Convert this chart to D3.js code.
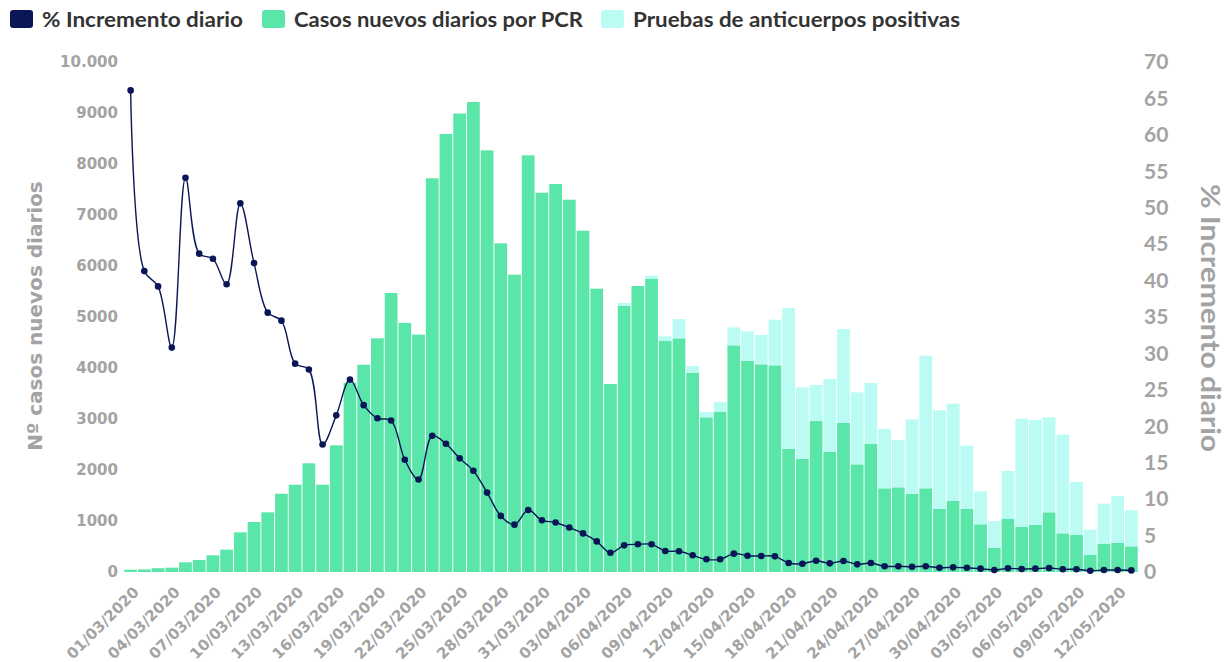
<!DOCTYPE html>
<html>
<head>
<meta charset="utf-8">
<script src="https://cdn.jsdelivr.net/npm/d3@7"></script>
<style>
  body { margin: 0; background: #fff; }
  svg { display: block; }
</style>
</head>
<body>
<div id="chart"></div>
<script>
// dates (one bar per day)
const dates = [
  "01/03/2020","02/03/2020","03/03/2020","04/03/2020","05/03/2020","06/03/2020","07/03/2020","08/03/2020","09/03/2020","10/03/2020",
  "11/03/2020","12/03/2020","13/03/2020","14/03/2020","15/03/2020","16/03/2020","17/03/2020","18/03/2020","19/03/2020","20/03/2020",
  "21/03/2020","22/03/2020","23/03/2020","24/03/2020","25/03/2020","26/03/2020","27/03/2020","28/03/2020","29/03/2020","30/03/2020",
  "31/03/2020","01/04/2020","02/04/2020","03/04/2020","04/04/2020","05/04/2020","06/04/2020","07/04/2020","08/04/2020","09/04/2020",
  "10/04/2020","11/04/2020","12/04/2020","13/04/2020","14/04/2020","15/04/2020","16/04/2020","17/04/2020","18/04/2020","19/04/2020",
  "20/04/2020","21/04/2020","22/04/2020","23/04/2020","24/04/2020","25/04/2020","26/04/2020","27/04/2020","28/04/2020","29/04/2020",
  "30/04/2020","01/05/2020","02/05/2020","03/05/2020","04/05/2020","05/05/2020","06/05/2020","07/05/2020","08/05/2020","09/05/2020",
  "10/05/2020","11/05/2020","12/05/2020","13/05/2020"
];

// Casos nuevos diarios por PCR
const pcr = [
  45, 50, 75, 85, 190, 235, 327, 438, 778, 980,
  1170, 1535, 1712, 2131, 1712, 2484, 3712, 4065, 4582, 5470,
  4885, 4655, 7720, 8590, 8990, 9216, 8268, 6444, 5830, 8170,
  7438, 7608, 7300, 6692, 5555, 3686, 5222, 5608, 5752, 4536,
  4582, 3908, 3033, 3137, 4444, 4137, 4072, 4052, 2412, 2220,
  2961, 2353, 2922, 2111, 2510, 1641, 1660, 1536, 1641, 1235,
  1392, 1235, 935, 471, 1039, 882, 922, 1170, 758, 725,
  340, 556, 575, 503
];

// Pruebas de anticuerpos positivas
const anticuerpos = [
  0, 0, 0, 0, 0, 0, 0, 0, 0, 0,
  0, 0, 0, 0, 0, 0, 0, 0, 0, 0,
  0, 0, 0, 0, 0, 0, 0, 0, 0, 0,
  0, 0, 0, 0, 0, 0, 53, 0, 58, 85,
  378, 131, 104, 196, 353, 582, 575, 896, 2764, 1401,
  706, 1431, 1843, 1412, 1196, 1163, 928, 1457, 2601, 1935,
  1909, 1242, 647, 529, 941, 2124, 2058, 1863, 1935, 1040,
  490, 784, 915, 706
];

// % Incremento diario
const incremento = [
  66.1, 41.3, 39.2, 30.8, 54.1, 43.7, 43.0, 39.5, 50.6, 42.4,
  35.6, 34.5, 28.6, 27.8, 17.5, 21.5, 26.4, 22.9, 21.1, 20.8,
  15.4, 12.7, 18.7, 17.6, 15.6, 13.9, 10.9, 7.7, 6.5, 8.5,
  7.1, 6.8, 6.1, 5.3, 4.2, 2.65, 3.66, 3.8, 3.8, 2.88,
  2.84, 2.29, 1.74, 1.74, 2.52, 2.24, 2.2, 2.15, 1.23, 1.14,
  1.55, 1.19, 1.51, 1.05, 1.23, 0.78, 0.78, 0.73, 0.78, 0.59,
  0.64, 0.59, 0.46, 0.27, 0.5, 0.41, 0.46, 0.55, 0.37, 0.37,
  0.18, 0.27, 0.27, 0.22
];

const leftTicks = [0, 1000, 2000, 3000, 4000, 5000, 6000, 7000, 8000, 9000, 10000];
const rightTicks = [0, 5, 10, 15, 20, 25, 30, 35, 40, 45, 50, 55, 60, 65, 70];

const W = 1231, H = 662;
const margin = { top: 62, right: 93, bottom: 90, left: 124 };
const width = W - margin.left - margin.right,
      height = H - margin.top - margin.bottom;

const cGreen = "#5be6a9", cCyan = "#bafcf4", cNavy = "#0a1656", cGrey = "#a3a3a3";

const svg = d3.select("#chart")
  .append("svg")
  .attr("width", W)
  .attr("height", H);

const g = svg.append("g")
  .attr("transform", `translate(${margin.left},${margin.top})`);

// scales
const x = d3.scaleBand()
  .domain(dates)
  .range([0, width])
  .paddingInner(0.07)
  .paddingOuter(0.02);

const y = d3.scaleLinear().domain([0, 10000]).range([height, 0]);
const y2 = d3.scaleLinear().domain([0, 70]).range([height, 0]);

// stacked bars
const rows = dates.map((d, i) => ({ date: d, pcr: pcr[i], anti: anticuerpos[i] }));
const stack = d3.stack().keys(["pcr", "anti"])(rows);
const colors = { pcr: cGreen, anti: cCyan };

g.selectAll(".serie")
  .data(stack)
  .join("g")
  .attr("fill", d => colors[d.key])
  .selectAll("rect")
  .data(d => d)
  .join("rect")
  .attr("x", d => x(d.data.date))
  .attr("width", x.bandwidth())
  .attr("y", d => y(d[1]))
  .attr("height", d => Math.max(0, y(d[0]) - y(d[1])));

// left axis
const axL = g.append("g")
  .call(d3.axisLeft(y).tickValues(leftTicks)
    .tickFormat(d => d === 10000 ? "10.000" : d3.format("d")(d))
    .tickSize(0).tickPadding(6));
axL.select(".domain").remove();
axL.selectAll("text")
  .attr("fill", cGrey)
  .style("font", "bold 15px 'DejaVu Sans'");

// right axis
const axR = g.append("g")
  .attr("transform", `translate(${width},0)`)
  .call(d3.axisRight(y2).tickValues(rightTicks).tickSize(0).tickPadding(6));
axR.select(".domain").remove();
axR.selectAll("text")
  .attr("fill", cGrey)
  .style("font", "bold 21px Lato");

// x axis, every 3rd label
const axB = g.append("g")
  .attr("transform", `translate(0,${height})`)
  .call(d3.axisBottom(x).tickValues(dates.filter((d, i) => i % 3 === 0)).tickSize(0));
axB.select(".domain").remove();
axB.selectAll("text")
  .attr("fill", cGrey)
  .style("font", "bold 15px 'DejaVu Sans'")
  .attr("text-anchor", "end")
  .attr("dy", 0)
  .attr("transform", "translate(7,19) rotate(-45)");

// line
const line = d3.line()
  .x((d, i) => x(dates[i]) + x.bandwidth() / 2)
  .y(d => y2(d))
  .curve(d3.curveCatmullRom);

g.append("path")
  .datum(incremento)
  .attr("fill", "none")
  .attr("stroke", cNavy)
  .attr("stroke-width", 1.4)
  .attr("d", line);

g.selectAll(".dot")
  .data(incremento)
  .join("circle")
  .attr("cx", (d, i) => x(dates[i]) + x.bandwidth() / 2)
  .attr("cy", d => y2(d))
  .attr("r", 3.3)
  .attr("fill", cNavy);

// axis titles
svg.append("text")
  .attr("transform", `translate(42,316) rotate(-90)`)
  .attr("text-anchor", "middle")
  .attr("fill", cGrey)
  .style("font", "bold 20px 'DejaVu Sans'")
  .text("Nº casos nuevos diarios");

svg.append("text")
  .attr("transform", `translate(1201,318) rotate(90)`)
  .attr("text-anchor", "middle")
  .attr("fill", cGrey)
  .style("font", "bold 26px Lato")
  .attr("textLength", 268)
  .attr("lengthAdjust", "spacingAndGlyphs")
  .text("% Incremento diario");

// legend
const legend = [
  { label: "% Incremento diario", color: cNavy, x: 10, w: 201 },
  { label: "Casos nuevos diarios por PCR", color: cGreen, x: 262, w: 289 },
  { label: "Pruebas de anticuerpos positivas", color: cCyan, x: 601, w: 327 }
];
const lg = svg.append("g").selectAll("g")
  .data(legend)
  .join("g")
  .attr("transform", d => `translate(${d.x},0)`);
lg.append("rect")
  .attr("x", 0).attr("y", 10)
  .attr("width", 23).attr("height", 18)
  .attr("rx", 3)
  .attr("fill", d => d.color);
lg.append("text")
  .attr("x", 32).attr("y", 27)
  .attr("fill", "#333")
  .style("font", "bold 21px Lato")
  .attr("textLength", d => d.w)
  .attr("lengthAdjust", "spacingAndGlyphs")
  .text(d => d.label);
</script>
</body>
</html>
